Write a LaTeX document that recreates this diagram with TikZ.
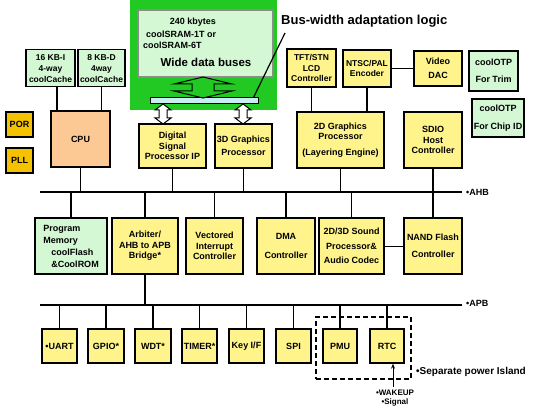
\documentclass[tikz,border=0pt]{standalone}
\usepackage{fontspec}
\usetikzlibrary{arrows.meta}
\setmainfont{Liberation Sans}
\definecolor{yelF}{HTML}{FFF48C}
\definecolor{lgrn}{HTML}{D4F7D4}
\definecolor{bgrn}{HTML}{22C922}
\definecolor{gold}{HTML}{F5C200}
\definecolor{peach}{HTML}{FCC894}
\definecolor{barblue}{HTML}{C8EEF5}
\tikzset{
  blk/.style={draw=black, line width=1.4pt, inner sep=1pt, align=center,
    font=\bfseries\fontsize{9}{10.5}\selectfont},
  ybox/.style={blk, fill=yelF},
  gbox/.style={blk, fill=lgrn},
  wire/.style={line width=1.6pt},
  hollow/.style={draw=black, line width=1pt, line join=miter},
  lbl/.style={font=\bfseries\fontsize{9}{10.5}\selectfont, inner sep=0pt},
}
\begin{document}
\begin{tikzpicture}[x=1pt,y=-1pt]
\useasboundingbox (0,0) rectangle (541,409);

% SRAM block
\node[fill=bgrn, minimum width=147pt, minimum height=110pt, inner sep=0pt] (sram) at (203.5,55) {};
\node[fill=lgrn, draw=black!45, line width=1.2pt, minimum width=135pt, minimum height=67pt, inner sep=0pt] (sraminner) at (205.5,43.5) {};
\node[lbl, anchor=center] (t240) at (193,22) {240 kbytes};
\node[lbl, anchor=west] (t1t) at (146,34) {coolSRAM-1T or};
\node[lbl, anchor=west] (t6t) at (143,45) {coolSRAM-6T};
\node[font=\bfseries\fontsize{11.5}{13}\selectfont, inner sep=0pt] (twide) at (206,62) {Wide data buses};
\node[fill=barblue, draw=black, line width=1pt, minimum width=108pt, minimum height=6pt, inner sep=0pt] (bar) at (204,101) {};
% big double arrow (outline)
\draw[hollow] (203,77) -- (232,84) -- (214,84) -- (214,91) -- (232,91) -- (203,98)
  -- (174,91) -- (192,91) -- (192,84) -- (174,84) -- cycle;
% bus-width label
\node[font=\bfseries\fontsize{13}{15}\selectfont, inner sep=0pt, anchor=west] (bwl) at (281,21) {Bus-width adaptation logic};
\coordinate (bwp) at (285,33);
\draw[line width=1.2pt] (bwp) -- ([xshift=-5pt]bar.north east);

% top-left
\node[gbox, minimum width=49pt, minimum height=37pt, anchor=north, font=\bfseries\fontsize{8.5}{11}\selectfont] (cachei) at (50.5,49) {16 KB-I\\4-way\\coolCache};
\node[gbox, minimum width=47pt, minimum height=37pt, anchor=north, font=\bfseries\fontsize{8.5}{11}\selectfont] (cached) at (101.5,49) {8 KB-D\\4way\\coolCache};
\node[blk, fill=peach, minimum width=59pt, minimum height=56pt] (cpu) at (80.5,139) {CPU};
\node[blk, fill=gold, minimum width=27pt, minimum height=25pt] (por) at (19.5,124.5) {POR};
\node[blk, fill=gold, minimum width=27pt, minimum height=25pt] (pll) at (19.5,160.5) {PLL};

\node[ybox, minimum width=67pt, minimum height=44pt] (dsp) at (172.5,146) {Digital\\Signal\\Processor IP};
\node[ybox, minimum width=57pt, minimum height=44pt] (g3d) at (243.5,146) {3D Graphics\\[2pt]Processor};

% small hollow double arrows
\draw[hollow, fill=white] (163,104) -- (171,110) -- (167,110) -- (167,118) -- (171,118) -- (163,124)
  -- (155,118) -- (159,118) -- (159,110) -- (155,110) -- cycle;
\draw[hollow, fill=white] (243,104) -- (251,110) -- (247,110) -- (247,118) -- (251,118) -- (243,124)
  -- (235,118) -- (239,118) -- (239,110) -- (235,110) -- cycle;

% top-right
\node[ybox, minimum width=49pt, minimum height=38pt, font=\bfseries\fontsize{8.5}{10.5}\selectfont] (tft) at (311.5,68) {TFT/STN\\LCD\\Controller};
\node[ybox, minimum width=48pt, minimum height=37pt, font=\bfseries\fontsize{8.5}{10.5}\selectfont] (ntsc) at (367,68.5) {NTSC/PAL\\Encoder};
\node[ybox, minimum width=48pt, minimum height=35pt] (dac) at (438,68.5) {Video\\[4pt]DAC};
\node[gbox, minimum width=49pt, minimum height=40pt] (otp1) at (493.5,71) {coolOTP\\[7pt]For Trim};
\node[gbox, minimum width=52pt, minimum height=38pt] (otp2) at (498,118) {coolOTP\\[7pt]For Chip ID};
\node[ybox, minimum width=87pt, minimum height=56pt] (g2d) at (340.5,140) {2D Graphics\\Processor\\[5pt](Layering Engine)};
\node[ybox, minimum width=58pt, minimum height=56pt] (sdio) at (433,140) {SDIO\\Host\\Controller};

% AHB
\coordinate (ahbl) at (40,192);
\coordinate (ahbr) at (462,192);
\draw[wire] (ahbl) -- (ahbr);
\node[lbl, anchor=west] (ahbt) at (466,192) {•AHB};

% row 2
\node[gbox, minimum width=72pt, minimum height=56pt, align=left, font=\bfseries\fontsize{9}{12}\selectfont] (pmem) at (71,246) {Program\\Memory\\\hspace{8pt}coolFlash\\\hspace{8pt}\&CoolROM};
\node[ybox, minimum width=66pt, minimum height=56pt] (arb) at (145,246) {Arbiter/\\AHB to APB\\Bridge*};
\node[ybox, minimum width=57pt, minimum height=56pt] (vic) at (214.5,246) {Vectored\\Interrupt\\Controller};
\node[ybox, minimum width=58pt, minimum height=56pt] (dma) at (286,246) {DMA\\[8pt]Controller};
\node[ybox, minimum width=65pt, minimum height=56pt] (snd) at (351.5,246) {2D/3D Sound\\[4pt]Processor\&\\[4pt]Audio Codec};
\node[ybox, minimum width=58pt, minimum height=56pt] (nand) at (433,246) {NAND Flash\\[7pt]Controller};

% APB
\coordinate (apbl) at (40,305);
\coordinate (apbr) at (462,305);
\draw[wire] (apbl) -- (apbr);
\node[lbl, anchor=west] (apbt) at (466,303) {•APB};

% row 3
\node[ybox, minimum width=35pt, minimum height=34pt] (uart) at (59.5,346) {•UART};
\node[ybox, minimum width=36pt, minimum height=34pt] (gpio) at (106,346) {GPIO*};
\node[ybox, minimum width=36pt, minimum height=34pt] (wdt) at (153,346) {WDT*};
\node[ybox, minimum width=35pt, minimum height=34pt] (timer) at (199.5,346) {TIMER*};
\node[ybox, minimum width=35pt, minimum height=34pt] (key) at (246.5,346) {Key I/F};
\node[ybox, minimum width=35pt, minimum height=34pt] (spi) at (293.5,346) {SPI};
\node[ybox, minimum width=34pt, minimum height=34pt] (pmu) at (340,346) {PMU};
\node[ybox, minimum width=34pt, minimum height=34pt] (rtc) at (387,346) {RTC};

% power island
\node[draw=black, line width=1.6pt, dash pattern=on 5pt off 3pt, minimum width=95pt, minimum height=62pt, inner sep=0pt] (island) at (363.5,348) {};
\node[lbl, anchor=west, font=\bfseries\fontsize{10}{12}\selectfont] (islt) at (416,372) {•Separate power Island};
\coordinate (wk) at (393,387);
\draw[line width=1pt, -{Stealth[length=5pt,width=4pt]}] (wk) -- (wk |- rtc.south);
\node[lbl, align=center, font=\bfseries\fontsize{8}{9}\selectfont] (wkt) at (395,398) {•WAKEUP\\•Signal};

% connectors
\draw[wire] ([xshift=6.5pt]cachei.south) -- ([xshift=6.5pt]cachei.south |- cpu.north);
\draw[wire] (cached.south) -- (cached.south |- cpu.north);
\draw[wire] (tft.south) -- (tft.south |- g2d.north);
\draw[wire] (ntsc.south) -- (ntsc.south |- g2d.north);
\draw[line width=1pt] (ntsc.east) -- (dac.west);
\foreach \n in {cpu,dsp,g3d,g2d,sdio} \draw[wire] (\n.south) -- (\n.south |- ahbl);
\foreach \n in {pmem,arb,vic,dma,snd,nand} \draw[wire] (\n.north) -- (\n.north |- ahbl);
\draw[wire] (arb.south) -- (arb.south |- apbl);
\foreach \n in {uart,gpio,wdt,timer,key,spi,pmu,rtc} \draw[wire] (\n.north) -- (\n.north |- apbl);
\draw[line width=1pt] (snd.east) -- (nand.west);
\end{tikzpicture}
\end{document}
